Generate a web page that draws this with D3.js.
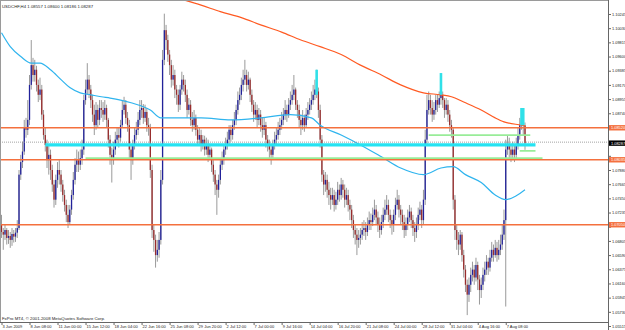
<!DOCTYPE html>
<html><head><meta charset="utf-8">
<script src="https://cdn.jsdelivr.net/npm/d3@7"></script>
<style>html,body{margin:0;padding:0;background:#fff;overflow:hidden}</style>
</head><body><svg id="c" width="625" height="330"></svg>
<script>
// ---------------- DATA ----------------
const title = "USDCHF,H4  1.08557 1.08600 1.08186 1.08287";
const footer = "FxPro MT4, \u00A9 2001-2008 MetaQuotes Software Corp.";
const firstOpen = 1.0705;
const closes = [
1.0694,1.0690,1.0697,1.0685,1.0688,1.0682,1.0691,1.0687,1.0693,1.0700,
1.0781,1.0800,1.0816,1.0852,1.0849,1.0864,1.0917,1.0947,1.0932,1.0940,
1.0917,1.0902,1.0910,1.0872,1.0841,1.0826,1.0803,1.0811,1.0788,1.0766,
1.0743,1.0773,1.0788,1.0781,1.0766,1.0750,1.0735,1.0720,1.0709,1.0728,
1.0750,1.0773,1.0796,1.0803,1.0796,1.0806,1.0819,1.0894,1.0910,1.0925,
1.0910,1.0894,1.0872,1.0856,1.0879,1.0864,1.0882,1.0879,1.0872,1.0882,
1.0864,1.0834,1.0811,1.0803,1.0819,1.0834,1.0841,1.0837,1.0856,1.0879,
1.0887,1.0867,1.0856,1.0819,1.0803,1.0826,1.0841,1.0849,1.0864,1.0879,
1.0882,1.0867,1.0876,1.0856,1.0852,1.0788,1.0697,1.0682,1.0659,1.0667,
1.0682,1.0773,1.0955,1.1000,1.0985,1.0963,1.0947,1.0925,1.0932,1.0910,
1.0902,1.0887,1.0910,1.0925,1.0917,1.0902,1.0879,1.0887,1.0864,1.0856,
1.0867,1.0849,1.0834,1.0841,1.0826,1.0834,1.0819,1.0826,1.0811,1.0819,
1.0796,1.0781,1.0766,1.0758,1.0773,1.0796,1.0803,1.0819,1.0826,1.0834,
1.0849,1.0841,1.0856,1.0864,1.0879,1.0894,1.0902,1.0917,1.0925,1.0932,
1.0917,1.0925,1.0902,1.0887,1.0872,1.0879,1.0864,1.0872,1.0856,1.0849,
1.0856,1.0834,1.0826,1.0819,1.0811,1.0826,1.0834,1.0841,1.0849,1.0856,
1.0864,1.0872,1.0879,1.0872,1.0887,1.0894,1.0902,1.0910,1.0887,1.0879,
1.0864,1.0856,1.0867,1.0856,1.0872,1.0879,1.0887,1.0894,1.0902,1.0910,
1.0907,1.0879,1.0834,1.0781,1.0766,1.0773,1.0758,1.0750,1.0743,1.0750,
1.0735,1.0743,1.0758,1.0750,1.0766,1.0758,1.0743,1.0750,1.0735,1.0728,
1.0712,1.0697,1.0690,1.0682,1.0685,1.0690,1.0697,1.0700,1.0694,1.0705,
1.0712,1.0709,1.0720,1.0728,1.0716,1.0705,1.0697,1.0709,1.0720,1.0728,
1.0735,1.0720,1.0712,1.0705,1.0720,1.0735,1.0743,1.0728,1.0720,1.0709,
1.0697,1.0705,1.0716,1.0725,1.0712,1.0700,1.0694,1.0705,1.0720,1.0728,
1.0712,1.0743,1.0834,1.0879,1.0894,1.0882,1.0872,1.0879,1.0894,1.0887,
1.0897,1.0902,1.0894,1.0879,1.0887,1.0872,1.0856,1.0849,1.0743,1.0697,
1.0682,1.0675,1.0690,1.0659,1.0637,1.0614,1.0599,1.0614,1.0629,1.0637,
1.0625,1.0644,1.0622,1.0606,1.0614,1.0629,1.0637,1.0649,1.0640,1.0655,
1.0667,1.0659,1.0670,1.0659,1.0667,1.0675,1.0690,1.0712,1.0819,1.0826,
1.0819,1.0811,1.0819,1.0811,1.0826,1.0841,1.0856,1.0864,1.08557,1.08287];
const highs = [
1.0720,1.0700,1.0706,1.0700,1.0697,1.0694,1.0700,1.0697,1.0700,1.0712,
1.0788,1.0811,1.0831,1.0864,1.0867,1.0894,1.0932,1.0985,1.0958,1.0955,
1.0946,1.0925,1.0928,1.0917,1.0879,1.0852,1.0834,1.0826,1.0819,1.0796,
1.0773,1.0781,1.0800,1.0803,1.0788,1.0773,1.0758,1.0743,1.0735,1.0735,
1.0758,1.0785,1.0806,1.0819,1.0816,1.0819,1.0834,1.0902,1.0925,1.0950,
1.0932,1.0917,1.0902,1.0887,1.0891,1.0887,1.0894,1.0894,1.0891,1.0894,
1.0887,1.0867,1.0841,1.0822,1.0831,1.0846,1.0852,1.0852,1.0864,1.0894,
1.0899,1.0894,1.0876,1.0864,1.0826,1.0834,1.0852,1.0861,1.0876,1.0894,
1.0894,1.0888,1.0887,1.0882,1.0867,1.0858,1.0796,1.0705,1.0690,1.0682,
1.0694,1.0788,1.0970,1.1025,1.1008,1.0993,1.0970,1.0955,1.0947,1.0940,
1.0917,1.0910,1.0917,1.0937,1.0932,1.0925,1.0910,1.0897,1.0894,1.0876,
1.0879,1.0872,1.0856,1.0852,1.0849,1.0841,1.0840,1.0837,1.0834,1.0826,
1.0822,1.0803,1.0788,1.0773,1.0781,1.0803,1.0816,1.0826,1.0837,1.0846,
1.0856,1.0856,1.0864,1.0876,1.0887,1.0907,1.0913,1.0928,1.0940,1.0955,
1.0940,1.0937,1.0928,1.0910,1.0894,1.0891,1.0887,1.0882,1.0879,1.0867,
1.0867,1.0861,1.0841,1.0834,1.0826,1.0834,1.0846,1.0852,1.0861,1.0867,
1.0876,1.0882,1.0894,1.0887,1.0897,1.0907,1.0917,1.0932,1.0913,1.0894,
1.0887,1.0872,1.0879,1.0872,1.0882,1.0891,1.0897,1.0907,1.0917,1.0925,
1.0940,1.0913,1.0887,1.0841,1.0788,1.0785,1.0781,1.0770,1.0761,1.0761,
1.0758,1.0755,1.0770,1.0766,1.0776,1.0773,1.0766,1.0761,1.0758,1.0743,
1.0735,1.0720,1.0705,1.0700,1.0697,1.0700,1.0709,1.0712,1.0709,1.0716,
1.0725,1.0722,1.0731,1.0743,1.0735,1.0725,1.0716,1.0720,1.0731,1.0743,
1.0750,1.0743,1.0728,1.0720,1.0728,1.0746,1.0758,1.0750,1.0735,1.0728,
1.0720,1.0716,1.0728,1.0735,1.0731,1.0720,1.0709,1.0716,1.0731,1.0740,
1.0735,1.0758,1.0849,1.0902,1.0907,1.0902,1.0894,1.0891,1.0902,1.0902,
1.0907,1.0910,1.0907,1.0897,1.0897,1.0894,1.0879,1.0864,1.0852,1.0750,
1.0705,1.0694,1.0697,1.0694,1.0667,1.0644,1.0622,1.0625,1.0640,1.0649,
1.0644,1.0655,1.0649,1.0629,1.0625,1.0640,1.0649,1.0659,1.0655,1.0667,
1.0679,1.0675,1.0682,1.0679,1.0682,1.0690,1.0705,1.0728,1.0834,1.0841,
1.0837,1.0826,1.0831,1.0826,1.0837,1.0852,1.0867,1.0882,1.0879,1.08600];
const lows = [
1.0685,1.0667,1.0682,1.0675,1.0676,1.0670,1.0673,1.0678,1.0679,1.0685,
1.0697,1.0773,1.0791,1.0811,1.0837,1.0841,1.0856,1.0910,1.0922,1.0922,
1.0907,1.0891,1.0894,1.0864,1.0834,1.0816,1.0791,1.0781,1.0773,1.0755,
1.0731,1.0735,1.0761,1.0766,1.0755,1.0740,1.0725,1.0709,1.0700,1.0705,
1.0720,1.0743,1.0766,1.0785,1.0785,1.0788,1.0796,1.0811,1.0887,1.0902,
1.0897,1.0882,1.0861,1.0841,1.0849,1.0852,1.0856,1.0867,1.0861,1.0864,
1.0852,1.0822,1.0796,1.0769,1.0796,1.0811,1.0825,1.0822,1.0831,1.0852,
1.0872,1.0858,1.0846,1.0806,1.0773,1.0796,1.0819,1.0834,1.0841,1.0856,
1.0867,1.0858,1.0861,1.0846,1.0840,1.0776,1.0685,1.0664,1.0640,1.0649,
1.0655,1.0675,1.0766,1.0947,1.0970,1.0952,1.0932,1.0913,1.0916,1.0897,
1.0887,1.0876,1.0879,1.0902,1.0907,1.0891,1.0867,1.0872,1.0855,1.0846,
1.0849,1.0840,1.0825,1.0826,1.0816,1.0819,1.0810,1.0811,1.0800,1.0803,
1.0785,1.0770,1.0750,1.0720,1.0746,1.0766,1.0788,1.0796,1.0811,1.0819,
1.0826,1.0831,1.0834,1.0849,1.0856,1.0872,1.0887,1.0894,1.0907,1.0917,
1.0907,1.0910,1.0891,1.0876,1.0861,1.0864,1.0852,1.0856,1.0846,1.0837,
1.0841,1.0822,1.0816,1.0806,1.0796,1.0803,1.0819,1.0826,1.0834,1.0841,
1.0849,1.0856,1.0864,1.0861,1.0867,1.0879,1.0887,1.0894,1.0879,1.0867,
1.0852,1.0841,1.0849,1.0846,1.0852,1.0864,1.0872,1.0879,1.0887,1.0894,
1.0897,1.0867,1.0822,1.0770,1.0750,1.0755,1.0746,1.0735,1.0728,1.0735,
1.0725,1.0728,1.0735,1.0740,1.0743,1.0746,1.0731,1.0735,1.0725,1.0712,
1.0700,1.0685,1.0675,1.0659,1.0670,1.0675,1.0682,1.0688,1.0682,1.0688,
1.0697,1.0697,1.0703,1.0712,1.0705,1.0694,1.0685,1.0690,1.0700,1.0712,
1.0720,1.0709,1.0700,1.0690,1.0694,1.0712,1.0728,1.0716,1.0705,1.0697,
1.0685,1.0688,1.0697,1.0709,1.0700,1.0688,1.0679,1.0685,1.0697,1.0712,
1.0700,1.0705,1.0735,1.0826,1.0872,1.0872,1.0861,1.0864,1.0872,1.0876,
1.0882,1.0887,1.0882,1.0867,1.0872,1.0861,1.0846,1.0837,1.0728,1.0682,
1.0667,1.0659,1.0667,1.0649,1.0625,1.0603,1.0568,1.0588,1.0603,1.0619,
1.0614,1.0619,1.0606,1.0584,1.0594,1.0606,1.0619,1.0629,1.0629,1.0634,
1.0649,1.0649,1.0655,1.0649,1.0652,1.0659,1.0667,1.0682,1.0581,1.0811,
1.0806,1.0800,1.0803,1.0800,1.0806,1.0819,1.0834,1.0849,1.0841,1.08186];

const timeLabels = ["3 Jun 2009","8 Jun 08:00","11 Jun 00:00","15 Jun 12:00","18 Jun 04:00",
"22 Jun 16:00","25 Jun 08:00","29 Jun 20:00","2 Jul 12:00","7 Jul 00:00","9 Jul 16:00",
"14 Jul 04:00","16 Jul 20:00","21 Jul 08:00","24 Jul 00:00","28 Jul 12:00","31 Jul 04:00",
"4 Aug 16:00","7 Aug 08:00"];
const timeLabelBars = [0,16,32,48,64,80,96,112,128,144,160,176,192,208,224,240,256,272,288];
const priceTicks = [1.10245,1.10030,1.09815,1.09600,1.09385,1.09170,1.08955,1.08740,1.08525,
1.08310,1.08095,1.07880,1.07665,1.07450,1.07235,1.07020,1.06805,1.06590,1.06375,1.06160,
1.05945,1.05730,1.05515];

// moving averages (read at these bars)
const maFastBars = [0,5,11,17,22,28,34,39,45,51,57,62,68,74,80,85,91,97,114,131,148,165,177,182,194,205,217,228,241,251,258,265,274,282,288,294,299];
const maFastValues = [1.0996,1.0975,1.0960,1.0950,1.0950,1.0940,1.0925,1.0913,1.0905,1.0902,1.0899,1.0897,1.0894,1.0890,1.0885,1.0879,1.0867,1.0867,1.0867,1.0864,1.0867,1.0872,1.0867,1.0856,1.0841,1.0826,1.0808,1.0791,1.0781,1.0791,1.0793,1.0781,1.0769,1.0750,1.0743,1.0749,1.0758];
const maSlowBars = [100,114,125,137,148,160,171,182,194,205,217,228,241,251,257,264,274,282,287,297,299];
const maSlowValues = [1.1049,1.1038,1.1028,1.1019,1.1008,1.0997,1.0985,1.0975,1.0963,1.0947,1.0932,1.0917,1.0905,1.0902,1.0899,1.0891,1.0879,1.0867,1.0861,1.0856,1.0855];

// chart objects
const srLevels = [1.08520, 1.08035, 1.07050];
const currentPrice = 1.08287;
const zoneLevel = 1.0826, zoneFromBar = 25, zoneToBar = 305;
const greenLevels = [1.0806, 1.0841, 1.0817];
const greenFromBars = [48, 244, 296];
const greenToBars = [309, 302, 305];
const markerBars = [180, 251, 297, 298];
const markerHighs = [1.0940, 1.0935, 1.0882, 1.0882];
const markerLows = [1.0902, 1.0902, 1.0856, 1.0856];

// ---------------- DRAW ----------------
const plotRight = 608.5, plotBottom = 322.5;
const FONT = "'Liberation Sans', Arial, sans-serif";
const svg = d3.select('#c');
const x = d3.scaleLinear().domain([0, 299]).range([1.5, 525]);
const y = d3.scaleLinear().domain([1.05515, 1.10245]).range([326, 14]);

const bars = closes.map((c, i) => {
  const o = i === 0 ? firstOpen : closes[i - 1];
  return {i, o, c, h: Math.max(highs[i], o, c), l: Math.min(lows[i], o, c)};
});

svg.append('defs').append('clipPath').attr('id', 'plot')
  .append('rect').attr('x', 0).attr('y', 0).attr('width', plotRight).attr('height', plotBottom);
const g = svg.append('g').attr('clip-path', 'url(#plot)');

// candles
g.selectAll('line.wick').data(bars).join('line').attr('class', 'wick')
  .attr('x1', d => x(d.i)).attr('x2', d => x(d.i))
  .attr('y1', d => y(d.h)).attr('y2', d => y(d.l))
  .attr('stroke', '#9a9a9a').attr('stroke-width', 1);
g.selectAll('rect.body').data(bars).join('rect').attr('class', 'body')
  .attr('x', d => x(d.i) - 0.65).attr('width', 1.3)
  .attr('y', d => y(Math.max(d.o, d.c)))
  .attr('height', d => Math.max(0.8, Math.abs(y(d.o) - y(d.c))))
  .attr('fill', d => d.c >= d.o ? '#22229a' : '#982c2c');

// moving averages
const line = d3.line().x(d => x(d[0])).y(d => y(d[1])).curve(d3.curveMonotoneX);
g.append('path').datum(maFastBars.map((b, k) => [b, maFastValues[k]]))
  .attr('d', line).attr('fill', 'none').attr('stroke', '#2fb4ee').attr('stroke-width', 1.2);
g.append('path').datum(maSlowBars.map((b, k) => [b, maSlowValues[k]]))
  .attr('d', line).attr('fill', 'none').attr('stroke', '#ff5a22').attr('stroke-width', 1.2);

// objects
g.selectAll('line.sr').data(srLevels).join('line').attr('class', 'sr')
  .attr('x1', 0).attr('x2', plotRight).attr('y1', d => y(d)).attr('y2', d => y(d))
  .attr('stroke', '#f4703e').attr('stroke-width', 1.4);
g.append('line').attr('x1', 0).attr('x2', plotRight)
  .attr('y1', y(currentPrice) - 1).attr('y2', y(currentPrice) - 1)
  .attr('stroke', '#8c8c8c').attr('stroke-width', 0.8).attr('stroke-dasharray', '1,1');
g.append('line').attr('x1', x(zoneFromBar)).attr('x2', x(zoneToBar))
  .attr('y1', y(zoneLevel)).attr('y2', y(zoneLevel))
  .attr('stroke', '#25e3f2').attr('stroke-width', 3.2);
g.selectAll('line.green').data(greenLevels).join('line').attr('class', 'green')
  .attr('x1', (d, k) => x(greenFromBars[k])).attr('x2', (d, k) => x(greenToBars[k]))
  .attr('y1', d => y(d)).attr('y2', d => y(d))
  .attr('stroke', '#98ec98').attr('stroke-width', 1.8);
g.selectAll('line.mark').data(markerBars).join('line').attr('class', 'mark')
  .attr('x1', d => x(d)).attr('x2', d => x(d))
  .attr('y1', (d, k) => y(markerHighs[k])).attr('y2', (d, k) => y(markerLows[k]))
  .attr('stroke', '#30e0e8').attr('stroke-width', 2.6);

// frame
svg.append('line').attr('x1', 0.5).attr('x2', 0.5).attr('y1', 0).attr('y2', plotBottom).attr('stroke', '#9a9a9a');
svg.append('line').attr('x1', 0).attr('x2', plotRight).attr('y1', 0.5).attr('y2', 0.5).attr('stroke', '#9a9a9a');

// price labels for objects (tags) – tick labels hidden where a tag sits on top
const tags = srLevels.map(p => ({p, fill: '#f4703e'})).concat([{p: currentPrice, fill: '#000'}]);
const covered = v => tags.some(t => Math.abs(y(t.p) - y(v)) < 4.5);

// price axis
const yAxis = d3.axisRight(y).tickValues(priceTicks)
  .tickFormat(v => covered(v) ? '' : d3.format('.5f')(v)).tickSize(2.5).tickPadding(1);
const ya = svg.append('g').attr('transform', `translate(${plotRight},0)`).call(yAxis);
ya.select('.domain').remove();
ya.selectAll('line').attr('stroke', '#666');
ya.selectAll('text').attr('font-family', FONT).attr('font-size', 3.9).attr('fill', '#222');
svg.append('line').attr('x1', plotRight).attr('x2', plotRight).attr('y1', 0).attr('y2', 330).attr('stroke', '#666');

// time axis
const xAxis = d3.axisBottom(x).tickValues(timeLabelBars).tickFormat((d, k) => timeLabels[k]).tickSize(2.5).tickPadding(0.5);
const xa = svg.append('g').attr('transform', `translate(0,${plotBottom})`).call(xAxis);
xa.select('.domain').remove();
xa.selectAll('line').attr('stroke', '#666');
xa.selectAll('text').attr('font-family', FONT).attr('font-size', 4).attr('fill', '#222')
  .attr('text-anchor', 'start').attr('dx', 0.5);
svg.append('line').attr('x1', 0).attr('x2', plotRight).attr('y1', plotBottom).attr('y2', plotBottom).attr('stroke', '#666');

const tg = svg.selectAll('g.tag').data(tags).join('g').attr('class', 'tag')
  .attr('transform', d => `translate(${plotRight + 0.5},${y(d.p)})`);
tg.append('rect').attr('x', 0).attr('y', -2.7).attr('width', 16.5).attr('height', 5.4).attr('fill', d => d.fill);
tg.append('text').attr('x', 2).attr('y', 1.4).attr('font-family', FONT).attr('font-size', 3.9)
  .attr('fill', '#fff').text(d => d3.format('.5f')(d.p));

// title & footer
svg.append('text').attr('x', 2).attr('y', 7.5).attr('font-family', FONT).attr('font-size', 4.3).attr('fill', '#222').text(title);
svg.append('text').attr('x', 2).attr('y', 320).attr('font-family', FONT).attr('font-size', 4.3).attr('fill', '#222').text(footer);
</script></body></html>
